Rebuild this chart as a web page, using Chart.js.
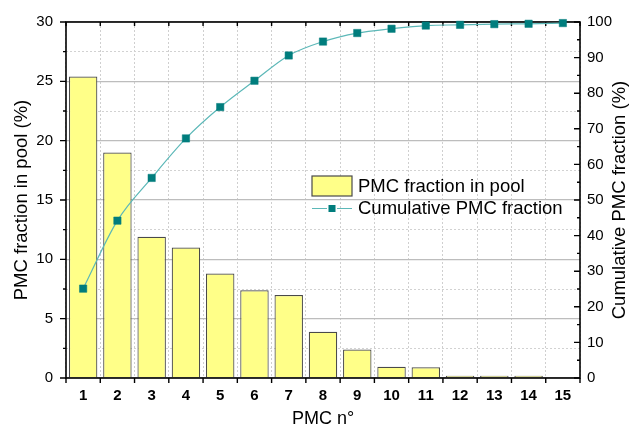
<!DOCTYPE html>
<html><head><meta charset="utf-8">
<script src="https://cdn.jsdelivr.net/npm/chart.js@4/dist/chart.umd.min.js"></script>
<style>html,body{margin:0;padding:0;background:#fff}#wrap{width:630px;height:428px}</style>
</head><body><div id="wrap"><canvas id="c" width="630" height="428"></canvas></div>
<script>
const categories = ['1','2','3','4','5','6','7','8','9','10','11','12','13','14','15'];
const poolFraction = [25.4, 19.0, 11.9, 11.0, 8.8, 7.4, 7.0, 3.9, 2.4, 0.95, 0.9, 0.2, 0.2, 0.2, 0];
const cumulativeFraction = [25.1, 44.2, 56.2, 67.3, 76.1, 83.5, 90.6, 94.5, 96.9, 98.1, 99.0, 99.2, 99.4, 99.5, 99.7];
const leftAxisRange = [0, 30];
const rightAxisRange = [0, 100];
const seriesNames = ['PMC fraction in pool', 'Cumulative PMC fraction'];
const axisTitles = ['PMC n°', 'PMC fraction in pool (%)', 'Cumulative PMC fraction (%)'];

const FONT = '"Liberation Sans", Arial, sans-serif';
const BAR_FILL = '#ffff88';
const BAR_EDGE = '#4a4a4a';
const LINE_COLOR = '#5cb8b8';
const MARK_COLOR = '#007d7d';

const framePlugin = {
  id: 'frame',
  afterDatasetDraw(chart, args) {
    if (args.index !== 0) return;
    const ctx = chart.ctx, a = chart.chartArea;
    const x = chart.scales.x, y = chart.scales.y, y2 = chart.scales.y2;
    ctx.save();
    ctx.strokeStyle = '#000';
    ctx.lineWidth = 1.6;
    ctx.strokeRect(a.left, a.top, a.right - a.left, a.bottom - a.top);
    ctx.lineWidth = 1.4;
    ctx.beginPath();
    const n = categories.length;
    for (let i = 0; i <= n; i++) {
      let px;
      if (i === 0) px = a.left; else if (i === n) px = a.right;
      else px = (x.getPixelForValue(i - 1) + x.getPixelForValue(i)) / 2;
      ctx.moveTo(px, a.bottom); ctx.lineTo(px, a.bottom + 5);
      ctx.moveTo(px, a.top); ctx.lineTo(px, a.top + 4);
    }
    for (let v = leftAxisRange[0]; v <= leftAxisRange[1]; v += 2.5) {
      const py = y.getPixelForValue(v);
      const len = (v % 5 === 0) ? 6 : 3;
      ctx.moveTo(a.left - len, py); ctx.lineTo(a.left, py);
    }
    for (let v = rightAxisRange[0]; v <= rightAxisRange[1]; v += 5) {
      const py = y2.getPixelForValue(v);
      const len = (v % 10 === 0) ? 6 : 3;
      ctx.moveTo(a.right - len, py); ctx.lineTo(a.right, py);
    }
    ctx.stroke();
    ctx.restore();
  },
  afterDraw(chart) {
    const ctx = chart.ctx, a = chart.chartArea;
    ctx.save();
    // right axis title
    ctx.translate(620, (a.top + a.bottom) / 2);
    ctx.rotate(-Math.PI / 2);
    ctx.font = '18.5px ' + FONT;
    ctx.fillStyle = '#000';
    ctx.textAlign = 'center';
    ctx.textBaseline = 'middle';
    ctx.fillText(axisTitles[2], 0, 0);
    ctx.restore();
    // legend
    ctx.save();
    ctx.fillStyle = BAR_FILL;
    ctx.strokeStyle = BAR_EDGE;
    ctx.lineWidth = 1.2;
    ctx.fillRect(312, 176, 40, 20);
    ctx.strokeRect(312, 176, 40, 20);
    ctx.strokeStyle = LINE_COLOR;
    ctx.lineWidth = 1;
    ctx.beginPath();
    ctx.moveTo(312, 208.5); ctx.lineTo(327, 208.5);
    ctx.moveTo(337, 208.5); ctx.lineTo(352, 208.5);
    ctx.stroke();
    ctx.fillStyle = MARK_COLOR;
    ctx.fillRect(328.5, 205, 7, 7);
    ctx.fillStyle = '#000';
    ctx.font = '18.5px ' + FONT;
    ctx.textAlign = 'left';
    ctx.textBaseline = 'middle';
    ctx.fillText(seriesNames[0], 358, 187);
    ctx.fillText(seriesNames[1], 358, 209);
    ctx.restore();
  }
};

new Chart(document.getElementById('c'), {
  type: 'bar',
  data: {
    labels: categories,
    datasets: [
      {
        type: 'bar', label: seriesNames[0], data: poolFraction, yAxisID: 'y', order: 2,
        backgroundColor: BAR_FILL, borderColor: BAR_EDGE, borderWidth: 1.2,
        barPercentage: 0.83, categoryPercentage: 1.0
      },
      {
        type: 'line', label: seriesNames[1], data: cumulativeFraction, yAxisID: 'y2', order: 1,
        borderColor: LINE_COLOR, borderWidth: 1.2, tension: 0.4, cubicInterpolationMode: 'monotone',
        pointStyle: 'rect', pointRadius: 5.2, pointBackgroundColor: MARK_COLOR,
        pointBorderColor: MARK_COLOR, pointBorderWidth: 0.5, clip: false
      }
    ]
  },
  options: {
    responsive: false, animation: false, devicePixelRatio: 1,
    layout: { padding: { top: 20, left: 0, right: 0, bottom: 0 } },
    plugins: { legend: { display: false }, tooltip: { enabled: false } },
    scales: {
      x: {
        type: 'category', offset: true,
        grid: { offset: true, drawTicks: false, color: '#cfcfcf', lineWidth: 1 },
        border: { display: false, dash: [2, 2] },
        ticks: { font: { family: FONT, size: 15, weight: 'bold' }, color: '#000', padding: 9, autoSkip: false, maxRotation: 0 },
        title: { display: true, text: axisTitles[0], font: { family: FONT, size: 18, lineHeight: 1 }, color: '#000', padding: { top: 0, bottom: 0 } },
        afterFit: s => { s.height = 50; }
      },
      y: {
        position: 'left', min: leftAxisRange[0], max: leftAxisRange[1],
        ticks: { stepSize: 2.5, callback: v => (v % 5 === 0 ? String(v) : ''), font: { family: FONT, size: 15 }, color: '#000', padding: 13 },
        grid: { drawTicks: false, color: c => (c.tick && c.tick.value % 5 === 0 ? '#bdbdbd' : '#d2d2d2'), lineWidth: c => (c.tick && c.tick.value % 5 === 0 ? 1.3 : 1) },
        border: { display: false, dash: c => (c.tick && c.tick.value % 5 === 0 ? [] : [2, 2]) },
        title: { display: true, text: axisTitles[1], font: { family: FONT, size: 18.5, lineHeight: 1 }, color: '#000', padding: { top: 13, bottom: 0 } },
        afterFit: s => { s.width = 66; }
      },
      y2: {
        position: 'right', min: rightAxisRange[0], max: rightAxisRange[1],
        ticks: { stepSize: 10, font: { family: FONT, size: 15 }, color: '#000', padding: 7 },
        grid: { drawOnChartArea: false, drawTicks: false },
        border: { display: false },
        afterFit: s => { s.width = 50; }
      }
    }
  },
  plugins: [framePlugin]
});
</script>
</body></html>
